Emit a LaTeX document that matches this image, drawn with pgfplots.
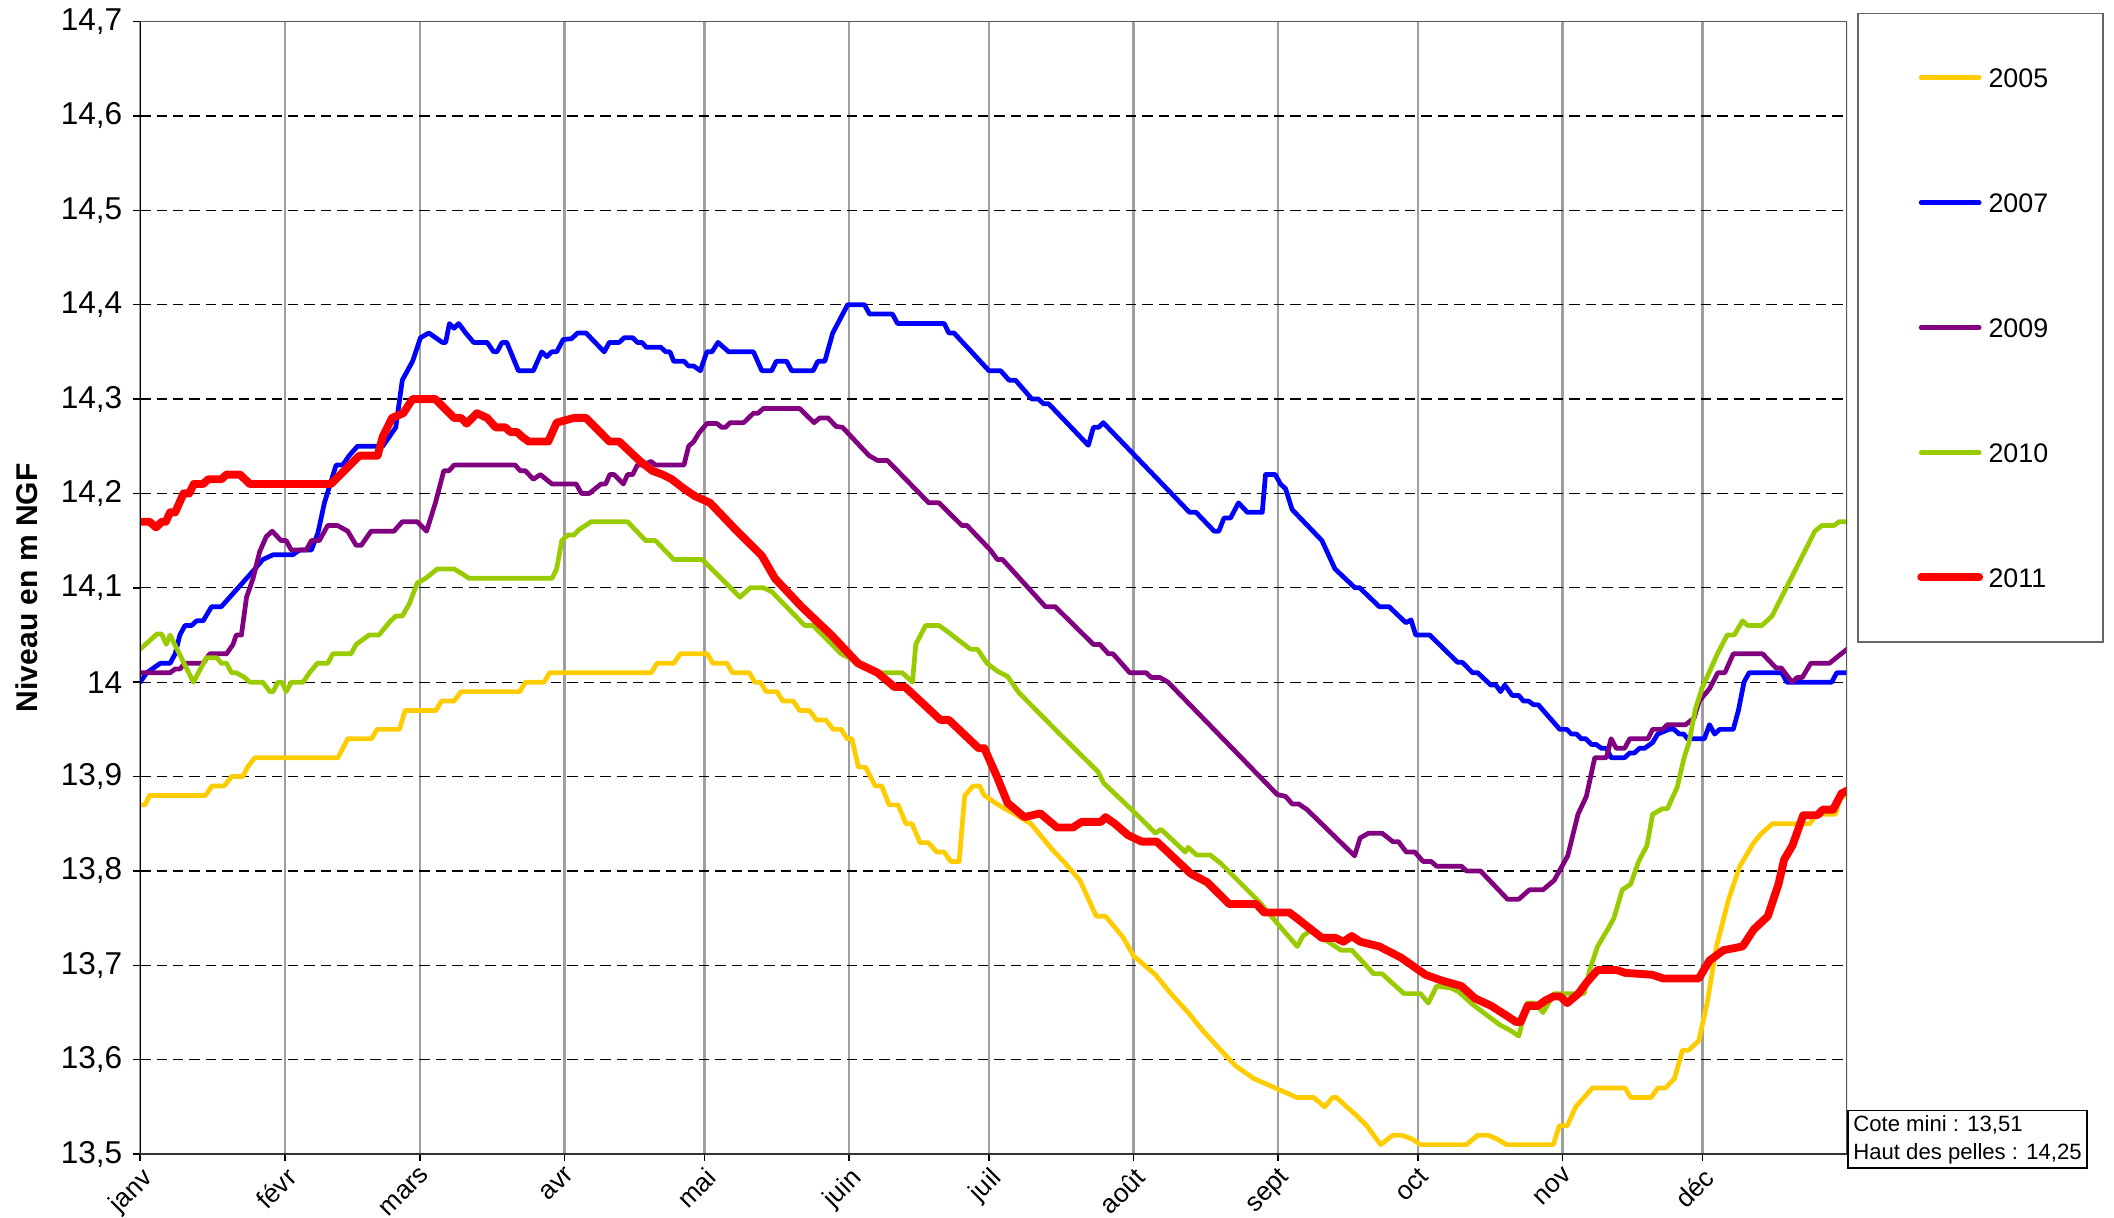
\documentclass[border=0pt]{standalone}
\usepackage{pgfplots}
\pgfplotsset{compat=1.18}
\usepackage{fontspec}
\setmainfont{Liberation Sans}
\definecolor{c2005}{HTML}{FFCC00}
\definecolor{c2007}{HTML}{0000FF}
\definecolor{c2009}{HTML}{800080}
\definecolor{c2010}{HTML}{99CC00}
\definecolor{c2011}{HTML}{FF0000}
\begin{document}
\begin{tikzpicture}
\useasboundingbox (-15.6mm,-7.05mm) rectangle (219.6mm,128.4mm);
\begin{axis}[
  at={(0,0)}, anchor=south west,
  width=189.9mm, height=126mm, scale only axis,
  xmin=0, xmax=366, ymin=13.5, ymax=14.7,
  xtick={0,31,60,91,121,152,182,213,244,274,305,335},
  xticklabels={janv,févr,mars,avr,mai,juin,juil,août,sept,oct,nov,déc},
  ytick={13.5,13.6,13.7,13.8,13.9,14,14.1,14.2,14.3,14.4,14.5,14.6,14.7},
  /pgf/number format/assume math mode=true,
  /pgf/number format/use comma,
  /pgf/number format/fixed,
  /pgf/number format/precision=1,
  yticklabel style={font=\fontsize{10}{12}\selectfont},
  xticklabel style={font=\fontsize{8.3}{9.6}\selectfont, rotate=45, anchor=north east, inner sep=1pt},
  tick align=outside, xtick pos=bottom, ytick pos=left,
  major tick length=0.75mm,
  major tick style={black, line width=0.5pt},
  axis line style={draw=none},
  xmajorgrids, ymajorgrids,
  x grid style={gray!75, line width=0.8pt},
  y grid style={black, dash pattern=on 3.3pt off 1.9pt, line width=0.4pt},
  ylabel={Niveau en m NGF},
  ylabel style={font=\bfseries\fontsize{9.5}{11}\selectfont, at={(axis description cs:-0.0663,0.5)}, anchor=center},
  legend style={at={(axis description cs:1.0795,0.7298)}, anchor=center, draw=none, fill=none,
    font=\fontsize{8.5}{10}\selectfont, row sep=11.7mm, column sep=0.6mm,
    nodes={inner sep=0pt, text height=2.2mm, text depth=0pt}},
  legend cell align=left,
  legend image code/.code={\draw[#1] (0mm,0mm) -- (6.45mm,0mm);},
  every axis plot/.append style={line join=round, line cap=round},
]
% 2005
\addplot[c2005, line width=1.5pt] coordinates {
(0,13.87) (1,13.87) (2,13.88) (14,13.88) (15.4,13.89) (18,13.89) (19.6,13.90) (22,13.90) (23,13.91) (24.6,13.92) (42.4,13.92) (44.5,13.94) (49.6,13.94) (50.8,13.95) (55.6,13.95) (56.8,13.97) (63.4,13.97) (64.6,13.98) (67.3,13.98) (68.8,13.99) (81.4,13.99) (82.6,14.00) (86.6,14.00) (87.8,14.01) (109.6,14.01) (110.8,14.02) (114.4,14.02) (115.8,14.03) (121.6,14.03) (122.8,14.02) (125.8,14.02) (127,14.01) (130.6,14.01) (131.8,14.00) (133,14.00) (134.2,13.99) (136.5,13.99) (137.8,13.98) (140,13.98) (141.4,13.97) (143.5,13.97) (145,13.96) (147,13.96) (148.6,13.95) (150.3,13.95) (151.6,13.94) (152.6,13.94) (154,13.91) (155.5,13.91) (157.6,13.89) (159,13.89) (160.6,13.87) (162.5,13.87) (164.2,13.85) (165.5,13.85) (167.2,13.83) (169,13.83) (170.8,13.82) (172.4,13.82) (173.8,13.81) (175.6,13.81) (176.8,13.88) (178.6,13.89) (180,13.89) (181,13.88) (184,13.87) (187.6,13.86) (191,13.85) (195.5,13.823) (198,13.81) (201.5,13.79) (205,13.752) (207,13.752) (210.7,13.73) (213,13.71) (217.7,13.69) (221,13.67) (224.7,13.65) (228,13.63) (231.7,13.61) (235,13.593) (238.8,13.58) (243.4,13.57) (248,13.56) (251.6,13.56) (254,13.55) (255.7,13.56) (256.5,13.56) (258.7,13.55) (261,13.54) (263,13.53) (266,13.51) (268.6,13.52) (270.5,13.52) (272.7,13.516) (274.5,13.51) (284.4,13.51) (286.8,13.52) (289,13.52) (290.9,13.516) (293,13.51) (303,13.51) (304.3,13.53) (306,13.53) (307.8,13.55) (311.4,13.57) (318.4,13.57) (319.6,13.56) (324,13.56) (325.4,13.57) (327,13.57) (329,13.58) (330.7,13.61) (332,13.61) (334.2,13.62) (336,13.66) (338,13.72) (340.6,13.77) (343,13.805) (346,13.83) (347.7,13.84) (350,13.85) (358,13.85) (359.4,13.86) (363.5,13.86) (364.6,13.878) (366,13.88)
};
\addlegendentry{2005}
% 2007
\addplot[c2007, line width=1.5pt] coordinates {
(0,14.0) (1.4,14.01) (4.3,14.02) (6.4,14.02) (7.5,14.03) (8.5,14.05) (9.6,14.06) (11,14.06) (12.1,14.065) (13.5,14.065) (15.3,14.08) (17.4,14.08) (22.8,14.11) (24.6,14.12) (26.3,14.13) (28.5,14.135) (32.7,14.135) (34.2,14.14) (36.7,14.14) (38.1,14.158) (39.5,14.19) (42,14.23) (43.4,14.23) (44.8,14.24) (46.6,14.25) (52,14.25) (54.8,14.27) (56.2,14.32) (58.4,14.34) (60.1,14.365) (61.9,14.37) (64.8,14.36) (65.5,14.36) (66.3,14.38) (67.3,14.375) (68.3,14.38) (69.8,14.37) (71.5,14.36) (74.4,14.36) (75.8,14.35) (76.5,14.35) (77.6,14.36) (78.6,14.36) (81.1,14.33) (84.3,14.33) (86.1,14.35) (87.2,14.345) (88.2,14.35) (89.3,14.35) (90.7,14.363) (92.5,14.364) (93.8,14.37) (95.6,14.37) (99.5,14.35) (100.6,14.36) (102.7,14.36) (103.8,14.365) (105.6,14.365) (106.6,14.36) (107.6,14.36) (108.5,14.355) (111.6,14.355) (112.7,14.35) (113.6,14.35) (114.4,14.34) (116.6,14.34) (117.6,14.335) (118.7,14.335) (120.1,14.33) (121.5,14.35) (122.6,14.35) (123.9,14.36) (126.2,14.35) (131.5,14.35) (133.3,14.33) (135.4,14.33) (136.4,14.34) (138.6,14.34) (139.7,14.33) (144.3,14.33) (145.3,14.34) (146.8,14.34) (148.5,14.37) (151.7,14.40) (155.3,14.40) (156.4,14.39) (161.3,14.39) (162.4,14.38) (172.4,14.38) (173.4,14.37) (174.5,14.37) (182,14.33) (184.5,14.33) (186.3,14.32) (187.7,14.32) (191.2,14.30) (192.6,14.30) (193.7,14.295) (194.8,14.295) (203.3,14.251) (204.4,14.27) (205.5,14.27) (206.5,14.275) (225,14.18) (226.4,14.18) (230.3,14.16) (231.3,14.16) (232.4,14.174) (233.8,14.174) (235.5,14.19) (237.4,14.18) (240.6,14.18) (241.3,14.22) (243.4,14.22) (244.5,14.21) (245.6,14.205) (247,14.183) (253.4,14.15) (256.2,14.12) (260.5,14.10) (261.5,14.10) (265.7,14.08) (267.8,14.08) (271.4,14.063) (272.5,14.066) (273.5,14.05) (276.5,14.05) (282.5,14.021) (283.5,14.021) (285.7,14.01) (286.8,14.01) (289.6,13.997) (290.7,13.997) (291.7,13.99) (292.6,13.997) (294.2,13.986) (295.6,13.986) (296.6,13.98) (297.7,13.98) (298.8,13.976) (299.8,13.976) (304.4,13.95) (305.9,13.95) (306.9,13.945) (308,13.945) (309,13.94) (310,13.94) (311.2,13.934) (312.2,13.934) (313.3,13.93) (314.4,13.93) (315.4,13.92) (318.3,13.92) (319.4,13.925) (320.4,13.925) (321.5,13.93) (322.6,13.93) (324.3,13.936) (325.4,13.945) (327.8,13.95) (328.9,13.95) (330,13.945) (331,13.945) (331.8,13.94) (335.4,13.94) (336.5,13.955) (337.6,13.945) (338.7,13.95) (341.6,13.95) (342.7,13.97) (343.9,14.0) (345,14.01) (352,14.01) (353.1,14.0) (362.7,14.0) (363.8,14.01) (366,14.01)
};
\addlegendentry{2007}
% 2009
\addplot[c2009, line width=1.5pt] coordinates {
(0,14.01) (6.4,14.01) (7.5,14.014) (8.5,14.014) (9.6,14.02) (13.5,14.02) (14.9,14.03) (18.5,14.03) (19.9,14.04) (20.6,14.05) (21.7,14.05) (22.8,14.09) (24.2,14.11) (25.6,14.138) (27,14.154) (28.3,14.16) (30.2,14.15) (31.3,14.15) (32.4,14.14) (35.6,14.14) (36.7,14.15) (38.4,14.15) (40.2,14.166) (42.3,14.166) (44.5,14.16) (46.3,14.145) (47.4,14.145) (49.5,14.16) (54.4,14.16) (56.2,14.17) (59.4,14.17) (61.4,14.16) (63.3,14.19) (65.1,14.224) (66.2,14.224) (67.3,14.23) (80.4,14.23) (81.5,14.224) (82.6,14.224) (84.3,14.215) (85.8,14.22) (88.3,14.21) (93.5,14.21) (94.6,14.20) (96.3,14.20) (98.8,14.21) (99.8,14.21) (100.7,14.22) (101.6,14.22) (103.6,14.21) (104.5,14.22) (105.6,14.22) (106.6,14.23) (108,14.23) (109.5,14.234) (110.5,14.23) (116.6,14.23) (117.6,14.25) (118.7,14.255) (119.8,14.264) (121.5,14.274) (123.7,14.274) (124.7,14.27) (125.5,14.27) (126.5,14.275) (129.4,14.275) (131.5,14.285) (132.5,14.285) (133.6,14.29) (141.4,14.29) (144.5,14.275) (145.7,14.28) (147.5,14.28) (149.2,14.271) (150.6,14.27) (156.3,14.24) (158.1,14.235) (160.2,14.235) (169.1,14.19) (171.3,14.19) (176.2,14.166) (177.3,14.166) (182.3,14.14) (183.8,14.13) (184.9,14.13) (194.1,14.08) (196.2,14.08) (204.4,14.04) (205.8,14.04) (207.6,14.03) (208.6,14.03) (212.2,14.01) (215.7,14.01) (216.8,14.005) (218.6,14.005) (220.4,14.0) (243.8,13.881) (245.6,13.879) (247,13.871) (248.4,13.871) (250.2,13.865) (260.4,13.816) (261.6,13.835) (263.4,13.84) (266.3,13.84) (268.6,13.831) (269.8,13.831) (271.5,13.82) (273.3,13.82) (275.1,13.81) (276.8,13.81) (278,13.805) (283.3,13.805) (284.4,13.8) (287.4,13.8) (293.2,13.77) (295.6,13.77) (297.9,13.78) (300.8,13.78) (303.2,13.79) (306.1,13.816) (308.3,13.86) (310.1,13.879) (311.9,13.92) (314.4,13.92) (315.4,13.94) (316.5,13.93) (318.3,13.93) (319.4,13.94) (323.3,13.94) (324.3,13.95) (326.4,13.95) (327.5,13.955) (331.4,13.955) (333.2,13.962) (334.3,13.98) (336.5,13.993) (338.3,14.01) (339.8,14.01) (341.6,14.03) (347.9,14.03) (350.8,14.015) (351.9,14.015) (354.2,14.0) (355.3,14.005) (356.4,14.005) (358.2,14.02) (362.2,14.02) (366,14.035)
};
\addlegendentry{2009}
% 2010
\addplot[c2010, line width=1.5pt] coordinates {
(0,14.035) (3.6,14.051) (4.6,14.051) (5.6,14.04) (6.4,14.05) (11.4,14.0) (14.2,14.026) (16.4,14.026) (17.4,14.02) (18.5,14.02) (19.6,14.01) (20.6,14.01) (22.4,14.005) (23.5,14.0) (26.3,14.0) (27.8,13.99) (28.5,13.99) (29.5,14.0) (30.4,14.0) (31.3,13.99) (32.4,14.0) (34.9,14.0) (36.3,14.01) (38,14.02) (40.2,14.02) (41.3,14.03) (45.2,14.03) (46.3,14.04) (49.1,14.05) (51.2,14.05) (53.7,14.065) (54.8,14.07) (56.2,14.07) (57.7,14.083) (59.4,14.105) (61.2,14.11) (63.7,14.12) (67.3,14.12) (69,14.115) (70.5,14.11) (88.3,14.11) (89.3,14.12) (90.4,14.15) (91.7,14.156) (93,14.156) (94.2,14.162) (96.7,14.17) (104.5,14.17) (108.4,14.15) (110.5,14.15) (114.4,14.13) (120.5,14.13) (128.6,14.09) (130.8,14.1) (133.6,14.1) (135.4,14.096) (142.5,14.06) (144.3,14.06) (150.3,14.03) (153.9,14.021) (158.1,14.01) (163.4,14.01) (165.6,14.0) (166.3,14.04) (168.4,14.06) (171.3,14.06) (173,14.054) (178,14.035) (179.5,14.035) (181.6,14.02) (183.7,14.012) (186,14.006) (188.4,13.989) (196.6,13.948) (205.4,13.905) (206.6,13.893) (213,13.863) (217.7,13.84) (218.9,13.844) (224.1,13.82) (224.7,13.825) (226.5,13.817) (229.4,13.817) (231.7,13.808) (240,13.767) (244.6,13.74) (248.1,13.72) (249.3,13.731) (251,13.737) (257.5,13.716) (259.8,13.716) (264.5,13.691) (266.3,13.691) (271,13.67) (274.5,13.67) (276.2,13.66) (278,13.678) (281,13.676) (282.7,13.672) (285.6,13.659) (291.5,13.637) (293.8,13.631) (295.6,13.625) (297.4,13.66) (299,13.66) (300.8,13.65) (303.2,13.67) (309.6,13.67) (310.8,13.695) (312.5,13.72) (314.9,13.74) (316,13.75) (317.8,13.78) (319.6,13.786) (321.3,13.81) (323.1,13.827) (324.3,13.86) (326.4,13.866) (327.5,13.866) (329.6,13.889) (331,13.919) (332.1,13.936) (333.5,13.972) (335,13.995) (336.4,14.01) (338.2,14.03) (340.3,14.05) (341.8,14.05) (343.6,14.065) (344.7,14.06) (347.7,14.06) (349.9,14.07) (359.1,14.16) (360.6,14.166) (363.2,14.166) (364.3,14.17) (366,14.17)
};
\addlegendentry{2010}
% 2011
\addplot[c2011, line width=2.5pt] coordinates {
(0,14.17) (2,14.17) (3.4,14.164) (4.6,14.17) (5.5,14.17) (6.4,14.18) (7.5,14.18) (9.3,14.2) (10.5,14.2) (11.5,14.21) (13.5,14.21) (14.6,14.215) (17.4,14.215) (18.5,14.22) (21.4,14.22) (23.5,14.21) (40.9,14.21) (47,14.24) (50.9,14.24) (52,14.26) (54,14.28) (56.4,14.285) (58.4,14.30) (63.3,14.30) (67.3,14.28) (68.8,14.28) (70,14.274) (72.2,14.285) (74.4,14.28) (76.2,14.27) (78.3,14.27) (79.4,14.265) (80.8,14.265) (81.9,14.26) (83.3,14.255) (87.5,14.255) (89.3,14.275) (93,14.28) (95.6,14.28) (100.6,14.255) (102.7,14.255) (107,14.235) (109.8,14.224) (112,14.22) (114,14.215) (116.6,14.205) (119,14.197) (122.2,14.19) (127.6,14.162) (133.3,14.134) (136.1,14.11) (141.8,14.08) (148.2,14.05) (153.9,14.02) (158.1,14.01) (161.7,13.995) (164,13.995) (171.6,13.96) (173.4,13.96) (179.8,13.93) (181,13.93) (183.7,13.90) (186,13.872) (189.6,13.857) (193,13.861) (196.6,13.846) (200,13.846) (201.9,13.852) (206,13.852) (207,13.857) (209,13.85) (211.8,13.838) (214.8,13.831) (218,13.831) (225.3,13.797) (228.8,13.788) (233.5,13.765) (239.3,13.765) (241,13.756) (246.4,13.756) (248,13.75) (253.4,13.729) (256.3,13.729) (258,13.725) (259.8,13.731) (261.6,13.725) (265.7,13.72) (270.4,13.708) (275.6,13.69) (279,13.684) (283.3,13.678) (286.2,13.665) (289.7,13.657) (293.2,13.646) (295,13.64) (296,13.64) (297.5,13.657) (299.7,13.657) (301.4,13.663) (303,13.667) (304.5,13.667) (306,13.66) (308.4,13.67) (310.2,13.682) (312.5,13.695) (316.6,13.695) (318.4,13.692) (324.2,13.69) (326.6,13.686) (334.2,13.686) (336.5,13.705) (339.5,13.716) (343.6,13.72) (346,13.738) (349,13.752) (351.3,13.786) (352.5,13.812) (354.3,13.827) (356.6,13.859) (359.6,13.859) (360.8,13.865) (363,13.865) (364.8,13.882) (366,13.885)
};
\addlegendentry{2011}
\draw[gray!70!black, line width=0.6pt] (rel axis cs:0,1) -- (rel axis cs:1,1) -- (rel axis cs:1,0);
\draw[black, line width=0.6pt] (rel axis cs:0,1) -- (rel axis cs:0,0);
\draw[black!80, line width=0.9pt] (rel axis cs:0,0) -- (rel axis cs:1,0);
\end{axis}
\draw[gray!80!black, line width=0.5pt] (191.1mm,57mm) rectangle (218.4mm,126.9mm);
\node[draw=black, line width=0.6pt, fill=white, anchor=north west, align=left,
  font=\fontsize{7}{8.9}\selectfont, inner xsep=0.6mm, inner ysep=0.5mm]
  at (189.9mm,4.95mm) {Cote mini : 13,51\\Haut des pelles : 14,25};
\end{tikzpicture}
\end{document}
